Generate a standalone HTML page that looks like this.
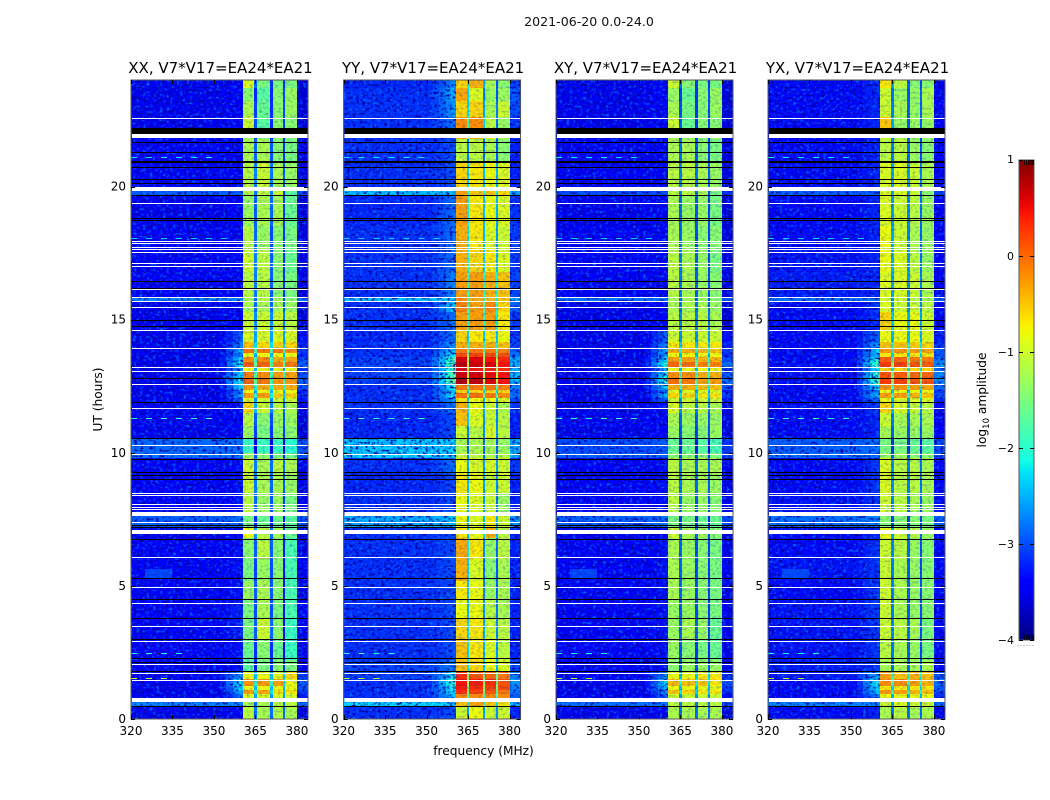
<!DOCTYPE html>
<html lang="en">
<head>
<meta charset="utf-8">
<title>2021-06-20 0.0-24.0</title>
<style>
html,body{margin:0;padding:0;background:#fff;width:1050px;height:800px;overflow:hidden}
svg{display:block;font-family:"DejaVu Sans","Liberation Sans",sans-serif;fill:#000}
</style>
</head>
<body>
<svg id="chart" xmlns="http://www.w3.org/2000/svg" width="1050" height="800" viewBox="0 0 1050 800">
  <defs>
    <filter id="speck-light" x="0" y="0" width="100%" height="100%" color-interpolation-filters="sRGB">
      <feTurbulence type="fractalNoise" baseFrequency="0.3 0.36" numOctaves="2" seed="4"/>
      <feColorMatrix type="matrix" values="0 0 0 0 0  0 0 0 0 0.45  0 0 0 0 1  3.4 0 0 0 -1.75"/>
    </filter>
    <filter id="speck-dark" x="0" y="0" width="100%" height="100%" color-interpolation-filters="sRGB">
      <feTurbulence type="fractalNoise" baseFrequency="0.32 0.38" numOctaves="2" seed="11"/>
      <feColorMatrix type="matrix" values="0 0 0 0 0  0 0 0 0 0  0 0 0 0 0.62  4 0 0 0 -2"/>
    </filter>
    <linearGradient id="colorbar-gradient" x1="0" y1="1" x2="0" y2="0"></linearGradient>
  </defs>
  <rect width="1050" height="800" fill="#fff"/>
  <text x="589" y="26" font-size="12.6" text-anchor="middle" fill="#111">2021-06-20 0.0-24.0</text>
  <text x="483.5" y="755" font-size="12.2" text-anchor="middle">frequency (MHz)</text>
  <text transform="translate(102,399.5) rotate(-90)" font-size="12.2" text-anchor="middle">UT (hours)</text>
  <g id="panels"></g>
  <g id="colorbar"></g>
</svg>
<script>
// ---- axis data ----
const utEdges = [0,.5,.8,.95,1.1,1.25,1.5,1.8,2.2,3,3.8,4.5,5.2,6,6.8,7.2,7.65,8.5,9.2,9.8,10,10.5,11,11.5,11.9,12.05,12.25,12.35,12.55,12.8,13.05,13.2,13.42,13.6,13.75,13.95,14.15,14.6,15.3,15.7,15.85,16.8,17.6,18.5,19.65,20,20.9,21.8,22.2,22.6,23.2,23.7,24];
const bandEdgesMHz = [[360.5,364.5],[365.4,370.25],[371.2,375.05],[375.8,380]];
const xTickLabels = [320,335,350,365,380];
const yTickLabels = [0,5,10,15,20];
const colorbarTicks = [1,0,-1,-2,-3,-4];

// ---- log10 amplitude per UT row: [background, wing, band1, band2, band3, band4] ----
const xxLevels = [
[-3.5,-3.4,-1.1,-1.2,-1.15,-1.2],[-2.7,-2.7,-1.2,-1.2,-1.1,-1.1],[-3.5,-2.8,-.9,-.9,-.9,-.95],[-3.5,-2.5,-.3,-.35,-.7,-.7],
[-3.5,-2.3,-.8,-.8,-.8,-.8],[-3.5,-2.2,-.25,-.3,-.3,-.8],[-3.4,-2.6,-.8,-.8,-.8,-.6],[-3.4,-3.3,-1.7,-1.5,-1.4,-1.5],
[-3.4,-3.3,-1.6,-1.4,-1.6,-1.9],[-3.4,-3.2,-1.5,-1,-1.4,-1.9],[-3.4,-3.2,-1.5,-1.2,-1.5,-1.8],[-3.45,-3.3,-1.3,-1.2,-1.4,-1.8],
[-3.4,-3.3,-1.5,-1.3,-1.4,-1.8],[-3.45,-3.3,-1.4,-1.1,-1.4,-1.8],[-3.5,-3.4,-.8,-1.1,-1.2,-1.6],[-2.9,-2.8,-1.5,-1.6,-1.6,-1.7],
[-3.4,-3.3,-1.1,-1.3,-1.3,-1.5],[-3.45,-3.3,-1,-1.2,-1.2,-1.3],[-3.45,-3.3,-1,-1.2,-1.1,-1.2],[-2.8,-2.8,-1.3,-1.4,-1.5,-1.6],
[-2.85,-2.8,-1.9,-1.9,-1.9,-2],[-3.5,-3.4,-1.3,-1.5,-1.4,-1.4],[-3.45,-3.4,-1.1,-1.4,-1.3,-1.3],[-3.5,-3.3,-.6,-1,-1.1,-1.2],
[-3.5,-2.9,-.9,-1,-1,-1],[-3.5,-2.6,-.3,-.3,-.6,-.6],[-3.5,-2.8,-.8,-.8,-.8,-.8],[-3.5,-2.3,-.3,-.4,-.4,-.4],
[-3.5,-2.1,0,-.1,-.25,-.25],[-3.5,-2.3,-.1,-.2,-.3,-.3],[-3.5,-2.6,-.8,-.8,-.8,-.8],[-3.5,-2.1,.05,0,-.15,-.1],
[-3.5,-2.3,-.2,-.2,-.4,-.35],[-3.5,-2.7,-.8,-.8,-.8,-.8],[-3.5,-2.5,-.05,-.1,-.1,-.2],[-3.5,-2.7,-.5,-.6,-.6,-.6],
[-3.5,-2.9,-.9,-.9,-.9,-.9],[-3.5,-3.4,-1,-1,-1,-1.1],[-3.5,-3.4,-1.2,-1.2,-1.2,-1.3],[-2.7,-2.7,-1.2,-1.1,-1.2,-1.4],
[-3.4,-3.4,-1.1,-1.1,-1.4,-1.5],[-3.4,-3.4,-1,-1.1,-1.4,-1.6],[-3.45,-3.4,-1.1,-1.3,-1.4,-1.5],[-3.5,-3.4,-1.3,-1.2,-1.2,-1.6],
[-2.9,-2.9,-1.1,-1.1,-1,-1.7],[-3.45,-3.4,-1.1,-1,-1.2,-1.3],[-3.45,-3.4,-1.2,-1.2,-1.4,-1.5],[-3.5,-3.4,-1.2,-1.5,-1.4,-1.4],
[-3.5,-3.4,-1,-1.7,-1.4,-1.4],[-3.5,-3.4,-1.2,-1.6,-1.4,-1.3],[-3.5,-3.4,-1.4,-1.7,-1.4,-1.3],[-3.5,-3.4,-.9,-1.5,-1.5,-1.5]
];
const yyLevels = [
[-3.15,-3,-1,-.8,-1,-1],[-2.3,-2.3,-.5,-.3,-.5,-.7],[-3.15,-2.4,-.2,-.2,-.2,-.2],[-3.15,-2.2,.3,.2,.1,-.1],
[-3.15,-2.1,.4,.3,.2,.15],[-3.15,-1.9,.45,.4,.3,.1],[-3.05,-2.2,.3,.1,0,-.1],[-3.05,-2.7,-.5,-.6,-.8,-.9],
[-3.15,-3,-.5,-.7,-.9,-1.1],[-3.15,-3,-.6,-.7,-1,-1.1],[-3.15,-3,-.8,-.8,-1.1,-1.2],[-3.15,-3,-.7,-.8,-1.3,-1.2],
[-3.15,-3,-.4,-.9,-1.4,-1.2],[-3.15,-3,-.35,-.7,-1.3,-1.1],[-3.15,-3,-.7,-.8,-.4,-1.1],[-2.5,-2.4,-.8,-.9,-.7,-1],
[-3.15,-3,-.8,-.9,-1,-1.3],[-3.2,-3,-.7,-.8,-1,-1],[-3.15,-2.8,-.8,-.9,-.9,-1],[-2.3,-2.3,-1,-1.1,-1.2,-1.1],
[-2.35,-2.3,-1.2,-1.2,-1.2,-1.3],[-3.2,-3,-1,-1.1,-.9,-1.1],[-3.2,-3,-.5,-.9,-1,-1.1],[-3.15,-2.8,-.4,-.8,-1,-1.2],
[-3.15,-2.6,-.7,-.8,-.8,-.9],[-3.15,-2.2,-.05,-.05,-.1,-.2],[-3.15,-2.4,-.6,-.6,-.6,-.6],[-3.15,-2.1,-.1,-.1,-.1,-.15],
[-3.05,-1.6,.75,.7,.55,.45],[-3.05,-1.7,.65,.6,.5,.45],[-3.05,-1.8,.5,.4,.35,.3],[-3.05,-1.7,.7,.65,.55,.45],
[-3.05,-1.8,.6,.55,.45,.35],[-3.15,-2.2,.15,.2,.15,.1],[-3.15,-2.4,-.1,-.1,-.1,-.15],[-3.15,-2.6,-.4,-.4,-.4,-.5],
[-3.2,-2.8,-.6,-.7,-.7,-.8],[-3.15,-2.8,-.3,-.3,-.3,-.7],[-3.15,-2.4,-.15,-.3,-.2,-.6],[-2.4,-2.3,-.2,-.4,-.5,-.5],
[-3.15,-2.7,-.3,-.3,-.4,-.5],[-3.15,-2.8,-.4,-.6,-.7,-.9],[-3.15,-2.8,-.4,-.7,-.9,-1],[-3.2,-2.8,-.3,-.7,-.8,-.9],
[-2.4,-2.4,-.3,-.5,-.5,-.6],[-3.15,-3,-.6,-.7,-.8,-.9],[-3.15,-3,-1.1,-1.1,-1.2,-1.4],[-3.15,-3,-.3,-.3,-.8,-1.1],
[-3.15,-2.8,-.2,-.2,-1.1,-1.3],[-3.15,-2.6,-.6,-.6,-1.2,-1],[-3.15,-2.5,-.35,-.9,-1.3,-1.3],[-3.2,-2.7,-.6,-.4,-1.2,-1.4]
];
const xyLevels = [
[-3.5,-3.4,-1.2,-1.2,-1.2,-1.2],[-2.8,-2.8,-1.1,-1.1,-1.1,-1.1],[-3.5,-2.9,-1,-1,-1,-1],[-3.5,-2.6,-.5,-.6,-.7,-.7],
[-3.5,-2.5,-.8,-.8,-.8,-.8],[-3.5,-2.3,-.45,-.5,-.5,-.7],[-3.4,-2.7,-.8,-.8,-.7,-.7],[-3.4,-3.3,-1.4,-1.3,-1.3,-1.3],
[-3.4,-3.3,-1.3,-1.4,-1.5,-1.6],[-3.4,-3.3,-1.3,-1.2,-1.3,-1.6],[-3.4,-3.3,-1.3,-1.3,-1.4,-1.5],[-3.45,-3.3,-1.2,-1.3,-1.4,-1.5],
[-3.4,-3.3,-1.2,-1.3,-1.4,-1.5],[-3.45,-3.3,-1.2,-1.3,-1.4,-1.5],[-3.5,-3.4,-1,-1.2,-1.2,-1.4],[-2.9,-2.8,-1.5,-1.5,-1.6,-1.6],
[-3.4,-3.3,-1.1,-1.3,-1.3,-1.4],[-3.45,-3.3,-1.1,-1.2,-1.2,-1.3],[-3.45,-3.3,-1.1,-1.2,-1.2,-1.2],[-2.9,-2.9,-1.4,-1.4,-1.4,-1.5],
[-3,-2.9,-1.6,-1.6,-1.7,-1.8],[-3.5,-3.4,-1.3,-1.4,-1.4,-1.3],[-3.45,-3.4,-1.2,-1.3,-1.3,-1.3],[-3.5,-3.3,-.9,-1.1,-1.1,-1.2],
[-3.5,-2.9,-1,-1,-1,-1],[-3.5,-2.5,-.6,-.6,-.7,-.7],[-3.5,-2.8,-.9,-.9,-.9,-.9],[-3.5,-2.3,-.4,-.4,-.5,-.5],
[-3.5,-2,-.05,-.1,-.3,-.3],[-3.5,-2.2,-.2,-.2,-.4,-.4],[-3.5,-2.5,-.8,-.8,-.8,-.8],[-3.5,-2,0,-.05,-.15,-.15],
[-3.5,-2.3,-.3,-.3,-.4,-.4],[-3.5,-2.6,-.8,-.8,-.8,-.8],[-3.5,-2.5,-.4,-.4,-.4,-.5],[-3.5,-2.7,-.7,-.7,-.7,-.7],
[-3.5,-2.9,-1,-1,-1,-1],[-3.5,-3.4,-1.1,-1.1,-1.1,-1.2],[-3.5,-3.4,-1.2,-1.2,-1.2,-1.3],[-2.8,-2.8,-1.2,-1.2,-1.3,-1.4],
[-3.4,-3.4,-1.1,-1.2,-1.3,-1.4],[-3.4,-3.4,-1.1,-1.2,-1.3,-1.5],[-3.45,-3.4,-1.2,-1.3,-1.4,-1.4],[-3.5,-3.4,-1.2,-1.3,-1.3,-1.5],
[-3,-3,-1.1,-1.1,-1.2,-1.5],[-3.45,-3.4,-1.1,-1.1,-1.2,-1.3],[-3.45,-3.4,-1.2,-1.2,-1.4,-1.5],[-3.5,-3.4,-1.2,-1.4,-1.4,-1.4],
[-3.5,-3.4,-1,-1.6,-1.4,-1.4],[-3.5,-3.4,-1.2,-1.5,-1.4,-1.3],[-3.5,-3.4,-1.3,-1.6,-1.4,-1.3],[-3.5,-3.4,-1,-1.4,-1.5,-1.5]
];
const yxLevels = [
[-3.35,-3.2,-1.2,-1.1,-1.2,-1.2],[-2.7,-2.7,-1,-.9,-1,-1],[-3.35,-2.7,-.8,-.8,-.8,-.8],[-3.35,-2.4,-.25,-.3,-.4,-.5],
[-3.35,-2.3,-.7,-.7,-.7,-.7],[-3.35,-2.1,-.2,-.2,-.3,-.4],[-3.25,-2.5,-.3,-.5,-.4,-.5],[-3.25,-3.1,-1.2,-1.2,-1.2,-1.2],
[-3.3,-3.1,-1.1,-1.2,-1.3,-1.5],[-3.3,-3.1,-1,-1.1,-1.2,-1.5],[-3.3,-3.1,-1,-1.2,-1.3,-1.4],[-3.35,-3.1,-1,-1.2,-1.3,-1.4],
[-3.3,-3.1,-1,-1.2,-1.3,-1.4],[-3.35,-3.1,-1,-1.1,-1.3,-1.4],[-3.35,-3.2,-.8,-1,-1.1,-1.3],[-2.8,-2.7,-1.4,-1.4,-1.4,-1.5],
[-3.3,-3.1,-1,-1.1,-1.2,-1.3],[-3.35,-3.1,-.9,-1.1,-1.1,-1.2],[-3.35,-3.1,-.9,-1.1,-1.1,-1.2],[-2.8,-2.8,-1.3,-1.3,-1.4,-1.4],
[-2.9,-2.8,-1.5,-1.5,-1.6,-1.7],[-3.35,-3.2,-1.2,-1.3,-1.3,-1.3],[-3.35,-3.2,-1,-1.2,-1.2,-1.2],[-3.35,-3.1,-.6,-.9,-1,-1.1],
[-3.35,-2.8,-.8,-.9,-.9,-.9],[-3.35,-2.4,-.3,-.3,-.4,-.5],[-3.35,-2.7,-.8,-.8,-.8,-.8],[-3.35,-2.2,-.25,-.25,-.3,-.35],
[-3.35,-1.8,.25,.2,.1,.1],[-3.35,-1.9,.1,.05,0,0],[-3.35,-2.2,-.6,-.6,-.6,-.6],[-3.35,-1.8,.25,.2,.1,.05],
[-3.35,-2,.05,0,-.1,-.1],[-3.35,-2.4,-.7,-.7,-.7,-.7],[-3.35,-2.3,-.25,-.25,-.3,-.35],[-3.35,-2.6,-.5,-.5,-.55,-.6],
[-3.35,-2.9,-.8,-.8,-.8,-.9],[-3.35,-3.2,-.6,-.8,-.8,-1],[-3.35,-3.1,-.9,-1,-1,-1.1],[-2.8,-2.8,-1,-1,-1.1,-1.2],
[-3.25,-3.2,-.9,-.9,-1,-1.2],[-3.3,-3.2,-.8,-.9,-1.1,-1.3],[-3.35,-3.2,-.8,-1,-1.2,-1.3],[-3.35,-3.2,-.9,-1,-1.1,-1.3],
[-2.9,-2.9,-.9,-.9,-1,-1.4],[-3.35,-3.2,-.9,-.9,-1,-1.2],[-3.35,-3.2,-1.1,-1.1,-1.3,-1.4],[-3.35,-3.2,-.9,-1.2,-1.3,-1.3],
[-3.35,-3.2,-.5,-1.3,-1.3,-1.3],[-3.35,-3.2,-1,-1.2,-1.3,-1.2],[-3.35,-3.2,-1,-1.3,-1.3,-1.2],[-3.35,-3.2,-.7,-1.1,-1.4,-1.4]
];

// ---- flagged integrations (UT hours) ----
const whiteLinesUT = [22.56,19.37,17.96,17.86,17.74,17.65,17.53,17.11,17.01,16.14,15.84,15.69,15.46,14.6,13.92,13.21,13.06,12.57,11.67,10.28,9.94,8.5,8.4,8.07,7.98,7.87,7.39,6.07,4.95,4.34,3.48,2.92,2.05,1.72,1.48];
const whiteBandsUT = [[21.83,21.97],[19.83,19.97],[7.64,7.77],[6.95,7.1],[.64,.78]];
const blackLinesUT = [21.69,21.29,20.96,20.92,20.73,20.3,20.15,19.68,18.8,18.75,16.44,16.2,14.99,14.75,12.79,11.89,10.55,9.76,9.29,9.16,9,7.29,7.22,6.77,5.28,4.52,3.78,3.02,2.28,2.14,1.81,.5];
const blackBandsUT = [[21.97,22.19]];

// ---- narrow interference: UT, first MHz, last MHz, level ----
const rfiLineUT = [21.09,18.07,11.32,2.48,1.54];
const rfiLineStart = [320,320,320,320,320];
const rfiLineEnd = [352,358,352,340,334];
const rfiLineLevel = [-2.2,-2.3,-2,-2.1,-1.1];
const rfiPatchUT = [[5.3,5.65]];
const rfiPatchMHz = [[325,335]];
const rfiPatchLevel = [-2.85];
const rfiPatchPanels = [[0,2,3]];

const panelTitles = ['XX, V7*V17=EA24*EA21','YY, V7*V17=EA24*EA21','XY, V7*V17=EA24*EA21','YX, V7*V17=EA24*EA21'];
const panelLevels = [xxLevels,yyLevels,xyLevels,yxLevels];
const panelSlugs = ['xx','yy','xy','yx'];

// ---- layout ----
const panelLefts = [131,343.6,556,768];
const panelW = 177, plotTop = 80, plotBottom = 719;
const fMin = 320, fMax = 384, utMax = 24, vMin = -4, vMax = 1;
const SVGNS = 'http://www.w3.org/2000/svg';

function mk(tag, attrs, parent, text){
  const el = document.createElementNS(SVGNS, tag);
  for(const k in attrs) el.setAttribute(k, attrs[k]);
  if(text !== undefined) el.textContent = text;
  parent.appendChild(el);
  return el;
}
function yOf(ut){ return plotBottom - (ut/utMax)*(plotBottom-plotTop); }
function lerp(tbl,t){
  for(let i=1;i<tbl.length;i++){
    if(t<=tbl[i][0]){
      const a=tbl[i-1], b=tbl[i];
      return a[1]+(b[1]-a[1])*(t-a[0])/(b[0]-a[0]);
    }
  }
  return tbl[tbl.length-1][1];
}
const jetR=[[0,0],[.35,0],[.66,1],[.89,1],[1,.5]];
const jetG=[[0,0],[.125,0],[.375,1],[.64,1],[.91,0],[1,0]];
const jetB=[[0,.5],[.11,1],[.34,1],[.65,0],[1,0]];
function color(v){
  const t=Math.max(0,Math.min(1,(v-vMin)/(vMax-vMin)));
  return 'rgb('+Math.round(lerp(jetR,t)*255)+','+Math.round(lerp(jetG,t)*255)+','+Math.round(lerp(jetB,t)*255)+')';
}

const root = document.getElementById('panels');
panelTitles.forEach(function(title,p){
  const left = panelLefts[p];
  const xOf = function(f){ return left + (f-fMin)/(fMax-fMin)*panelW; };
  const levels = panelLevels[p];
  const slug = panelSlugs[p];

  const g = mk('g',{},root);
  
  

  const clipId = 'clip-'+slug;
  const defs = mk('clipPath',{id:clipId},g);
  mk('rect',{x:left,y:plotTop,width:panelW,height:plotBottom-plotTop},defs);

  const heat = mk('g',{'clip-path':'url(#'+clipId+')','shape-rendering':'crispEdges'},g);
  
  

  function cell(f0,f1,ut0,ut1,v){
    const x0=Math.round(xOf(f0)), x1=Math.round(xOf(f1));
    const y0=Math.round(yOf(ut1)), y1=Math.round(yOf(ut0));
    const r = mk('rect',{x:x0,y:y0,width:Math.max(1,x1-x0),height:Math.max(1,y1-y0),fill:color(v)},heat);
    
    
  }

  levels.forEach(function(row,i){
    const u0=utEdges[i], u1=utEdges[i+1];
    const bg=row[0], wing=row[1];
    cell(fMin,352,u0,u1,bg);
    // wing fades from the band edge into the background
    cell(352,354.5,u0,u1,bg+(wing-bg)*.2);
    cell(354.5,357,u0,u1,bg+(wing-bg)*.5);
    cell(357,359,u0,u1,bg+(wing-bg)*.8);
    cell(359,360.5,u0,u1,wing);
    // bands and the low-gain channels between them
    bandEdgesMHz.forEach(function(be,b){
      cell(be[0],be[1],u0,u1,row[2+b]);
      if(b<3){
        cell(be[1],bandEdgesMHz[b+1][0],u0,u1,(row[2+b]+row[3+b])/2-1.65);
      }
    });
    cell(380,384,u0,u1,bg-.15+(wing-bg)*.55);
  });

  // receiver speckle, strongest outside the bands
  [[fMin,360.5,.95],[360.5,380,.2],[380,fMax,.9]].forEach(function(z){
    const x0=Math.round(xOf(z[0])), w=Math.round(xOf(z[1]))-x0;
    const n1=mk('rect',{x:x0,y:plotTop,width:w,height:plotBottom-plotTop,filter:'url(#speck-light)',opacity:z[2]},g);
    
    
    const n2=mk('rect',{x:x0,y:plotTop,width:w,height:plotBottom-plotTop,filter:'url(#speck-dark)',opacity:z[2]},g);
    
    
  });

  rfiPatchUT.forEach(function(u,i){
    if(rfiPatchPanels[i].indexOf(p)<0) return;
    const x0=Math.round(xOf(rfiPatchMHz[i][0])), x1=Math.round(xOf(rfiPatchMHz[i][1]));
    const r=mk('rect',{x:x0,y:Math.round(yOf(u[1])),width:x1-x0,height:Math.round(yOf(u[0])-yOf(u[1])),fill:color(rfiPatchLevel[i]),opacity:.6,'shape-rendering':'crispEdges'},g);
    
    
  });
  rfiLineUT.forEach(function(u,i){
    const y=Math.round(yOf(u))+.5;
    const r=mk('line',{x1:xOf(rfiLineStart[i]),x2:xOf(rfiLineEnd[i]),y1:y,y2:y,stroke:color(rfiLineLevel[i]),'stroke-width':1,'stroke-dasharray':'6 9','shape-rendering':'crispEdges'},g);
    
    
  });

  // flagged rows
  function flag(ut0,ut1,fill,name){
    const y0=Math.round(yOf(ut1));
    const h=Math.max(1,Math.round(yOf(ut0))-y0);
    const r=mk('rect',{x:left+1,y:y0,width:panelW-1,height:h,fill:fill,'shape-rendering':'crispEdges'},g);
    
    
  }
  blackBandsUT.forEach(function(b){ flag(b[0],b[1],'#000','flagged-band-black'); });
  whiteBandsUT.forEach(function(b){ flag(b[0],b[1],'#fff','flagged-band-white'); });
  blackLinesUT.forEach(function(u){ flag(u,u,'#000','flagged-line-black'); });
  whiteLinesUT.forEach(function(u){ flag(u,u,'#fff','flagged-line-white'); });

  // frame
  const fr=mk('rect',{x:left,y:plotTop,width:panelW,height:plotBottom-plotTop,fill:'none',stroke:'#555','stroke-width':1},g);
  
  

  const ti=mk('text',{x:left+panelW/2+1,y:73,'font-size':15,'text-anchor':'middle'},g,title);
  
  

  xTickLabels.forEach(function(f){
    const x=Math.round(xOf(f))+.5;
    mk('path',{d:'M'+x+' '+plotBottom+'v-4M'+x+' '+plotTop+'v4',stroke:'#000','stroke-width':1,fill:'none'},g);
    const t=mk('text',{x:xOf(f),y:735,'font-size':12,'text-anchor':'middle'},g,String(f));
    
    
  });
  yTickLabels.forEach(function(u){
    const y=Math.round(yOf(u))+.5;
    mk('path',{d:'M'+left+' '+y+'h4M'+(left+panelW)+' '+y+'h-4',stroke:'#000','stroke-width':1,fill:'none'},g);
    const t=mk('text',{x:left-5,y:yOf(u)+4,'font-size':12,'text-anchor':'end'},g,String(u));
    
    
  });
});

// ---- colorbar ----
const cb=document.getElementById('colorbar');
const cbX=1019, cbW=15, cbTop=160, cbBottom=640;
const grad=document.getElementById('colorbar-gradient');
for(let s=0;s<=40;s++){
  mk('stop',{offset:(s/40),'stop-color':color(vMin+(vMax-vMin)*s/40)},grad);
}
const cbFill=mk('rect',{x:cbX,y:cbTop,width:cbW,height:cbBottom-cbTop,fill:'url(#colorbar-gradient)',stroke:'#555','stroke-width':1},cb);


colorbarTicks.forEach(function(v){
  const y=cbBottom-(v-vMin)/(vMax-vMin)*(cbBottom-cbTop);
  const py=Math.round(y)+.5;
  mk('path',{d:'M'+cbX+' '+py+'h4M'+(cbX+cbW)+' '+py+'h-4',stroke:'#000','stroke-width':1,fill:'none'},cb);
  const t=mk('text',{x:cbX-5,y:y+(v===1?3:4),'font-size':11,'text-anchor':'end'},cb,(v<0?'\u2212':'')+Math.abs(v));
  
  
});
[.3,.477,.602,.699,.778,.845,.903,.954].forEach(function(k){
  const xx=Math.round(cbX+k*cbW)+.5;
  mk('path',{d:'M'+xx+' '+cbTop+'v5M'+xx+' '+cbBottom+'v-5',stroke:'#000','stroke-width':.7,fill:'none'},cb);
});
mk('path',{d:'M1017.5 645.5h18',stroke:'#999','stroke-width':1,'stroke-dasharray':'1 2',fill:'none'},cb);
const cbl=mk('text',{transform:'translate(986,400) rotate(-90)','font-size':12.2,'text-anchor':'middle'},cb);


mk('tspan',{},cbl,'log');
mk('tspan',{dy:3,'font-size':8.5},cbl,'10');
mk('tspan',{dy:-3},cbl,' amplitude');
</script>
</body>
</html>
